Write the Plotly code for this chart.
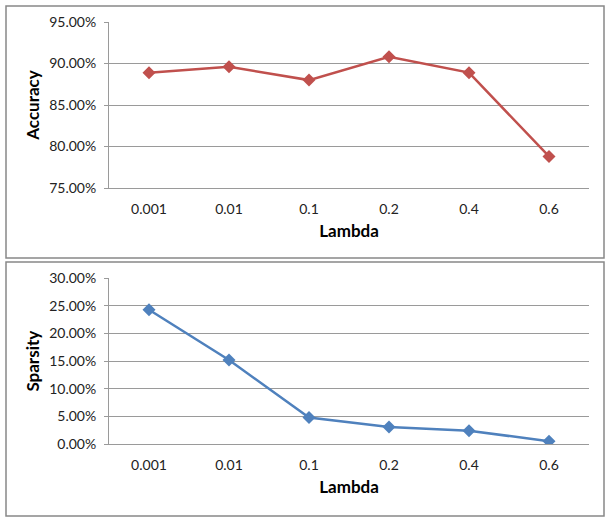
import plotly.graph_objects as go
from plotly.subplots import make_subplots

lambdas = ["0.001", "0.01", "0.1", "0.2", "0.4", "0.6"]
accuracy = [0.889, 0.896, 0.880, 0.908, 0.889, 0.788]
sparsity = [0.243, 0.152, 0.048, 0.031, 0.024, 0.005]

W, H = 612, 523
def px(x): return x / W
def py(y): return 1 - y / H

fig = make_subplots(rows=2, cols=1)

fig.add_trace(go.Scatter(x=lambdas, y=accuracy, mode="lines+markers",
                         line=dict(color="#C0504D", width=2.5),
                         marker=dict(symbol="diamond", size=10, color="#C0504D"),
                         showlegend=False), row=1, col=1)
fig.add_trace(go.Scatter(x=lambdas, y=sparsity, mode="lines+markers",
                         line=dict(color="#4F81BD", width=2.5),
                         marker=dict(symbol="diamond", size=10, color="#4F81BD"),
                         showlegend=False), row=2, col=1)

tickfont = dict(family="Lato, Open Sans, sans-serif", size=14, color="#222")
titlefont = dict(family="Lato, Open Sans, sans-serif", size=17, color="#000", weight="bold")
grid = "#9a9a9a"

common_x = dict(type="category", showline=True, linecolor=grid, linewidth=1,
                range=[-0.5, len(lambdas) - 0.5],
                showgrid=False, ticks="", tickfont=tickfont, ticklabelstandoff=8,
                automargin=False,
                title=dict(text="<b>Lambda</b>", font=titlefont, standoff=9))
fig.update_xaxes(**common_x, domain=[px(109), px(589)])
fig.update_yaxes(showline=True, linecolor=grid, linewidth=1, showgrid=True, gridcolor=grid,
                 gridwidth=1, ticks="outside", ticklen=4, tickcolor=grid, automargin=False,
                 tickfont=tickfont, tickformat=".2%", zeroline=False, ticklabelstandoff=5)

fig.update_yaxes(range=[0.75, 0.95], dtick=0.05, domain=[py(188), py(22)],
                 title=dict(text="<b>Accuracy</b>", font=titlefont, standoff=5), row=1, col=1)
fig.update_yaxes(range=[0, 0.30], dtick=0.05, domain=[py(444), py(278.3)],
                 title=dict(text="<b>Sparsity</b>", font=titlefont, standoff=5), row=2, col=1)

fig.add_shape(type="rect", xref="paper", yref="paper", x0=px(6), x1=px(604), y0=py(258), y1=py(6),
              line=dict(color="#888", width=1.5))
fig.add_shape(type="rect", xref="paper", yref="paper", x0=px(6), x1=px(604), y0=py(516), y1=py(262),
              line=dict(color="#888", width=1.5))

fig.update_layout(width=W, height=H, margin=dict(l=0, r=0, t=0, b=0),
                  paper_bgcolor="white", plot_bgcolor="white")
fig.write_html("out.html", config={"displayModeBar": False},
               post_script="document.body.style.margin='0';document.body.style.overflow='hidden';")
